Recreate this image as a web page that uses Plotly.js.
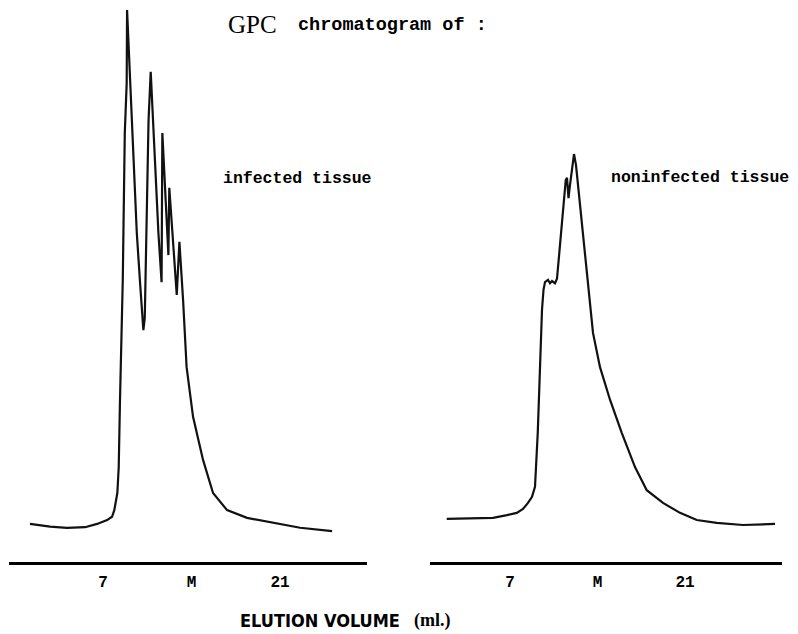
<!DOCTYPE html>
<html>
<head>
<meta charset="utf-8">
<script src="https://cdn.plot.ly/plotly-3.0.1.min.js"></script>
<style>html,body{margin:0;padding:0;background:#fff;}#chart{width:798px;height:634px;}</style>
</head>
<body>
<div id="chart"></div>
<script>
// Elution volume (ml) and detector response (relative units)
const infectedVolume = [1.22, 2.81, 4.15, 5.58, 6.53, 7.32, 7.71, 7.89, 8.13, 8.24, 8.34, 8.46, 8.56, 8.72, 8.87, 8.90,
  9.19, 9.67, 9.93, 10.09, 10.19, 10.30, 10.40, 10.54, 10.60, 10.77, 10.98, 11.38, 11.63, 11.69, 12.17, 12.24,
  12.83, 13.04, 13.33, 13.61, 14.12, 14.91, 15.70, 16.81, 18.39, 20.45, 22.59, 25.12];
const infectedResponse = [6.9, 6.4, 6.2, 6.3, 6.9, 7.6, 8.2, 9.4, 12.5, 17.2, 29.3, 42.0, 51.1, 77.7, 86.8, 100.0,
  83.7, 59.6, 50.5, 44.2, 42.0, 44.2, 58.3, 75.9, 80.1, 88.8, 77.7, 59.6, 50.7, 77.7, 55.6, 67.8,
  48.4, 58.0, 47.5, 35.3, 26.3, 18.5, 12.5, 9.4, 8.0, 7.1, 6.2, 5.6];

const noninfectedVolume = [1.94, 3.80, 5.64, 6.76, 7.54, 8.04, 8.44, 8.76, 9.00, 9.22, 9.40, 9.56, 9.68, 9.80, 10.04,
  10.20, 10.36, 10.60, 10.76, 11.46, 11.56, 11.68, 11.80, 12.12, 12.28, 12.84, 13.34, 13.64, 14.20, 15.00, 15.94,
  17.00, 17.94, 19.24, 20.60, 21.94, 23.54, 25.64, 28.20];
const noninfectedResponse = [7.8, 7.9, 8.0, 8.5, 8.9, 9.6, 10.7, 11.8, 13.6, 23.4, 35.3, 45.7, 49.3, 50.7, 51.1,
  50.5, 50.9, 50.5, 51.3, 69.2, 69.6, 65.9, 68.3, 73.9, 71.9, 59.6, 47.5, 41.5, 35.3, 29.4, 23.4,
  17.2, 13.0, 10.7, 8.9, 7.6, 7.1, 6.7, 6.9];

const tickValues = [7, 14, 21];
const tickLabels = ['7', 'M', '21'];

const lineStyle = {color: '#111', width: 2.2};
const traces = [
  {x: infectedVolume, y: infectedResponse, xaxis: 'x', yaxis: 'y', mode: 'lines', line: lineStyle, hoverinfo: 'skip'},
  {x: noninfectedVolume, y: noninfectedResponse, xaxis: 'x2', yaxis: 'y', mode: 'lines', line: lineStyle, hoverinfo: 'skip'}
];

const W = 798, H = 634, T = 10, B = 72;
const plotH = H - T - B;
const px = v => v / W;
const py = v => (H - B - v) / plotH;

const xCommon = {
  showline: true, linecolor: '#000', linewidth: 2.5, ticks: '', showgrid: false, zeroline: false,
  tickmode: 'array', tickvals: tickValues, ticktext: tickLabels, anchor: 'y', ticklabelstandoff: 3,
  tickfont: {family: 'Liberation Mono, DejaVu Sans Mono, monospace', size: 16, color: '#000', weight: 'bold'},
  fixedrange: true
};

const monoBold = (s) => ({family: 'Liberation Mono, DejaVu Sans Mono, monospace', size: s, color: '#000', weight: 'bold'});

const layout = {
  width: W, height: H,
  margin: {l: 0, r: 0, t: T, b: B},
  paper_bgcolor: '#fff', plot_bgcolor: '#fff',
  showlegend: false,
  xaxis: Object.assign({}, xCommon, {domain: [9 / W, 367 / W], range: [-0.44, 27.88]}),
  xaxis2: Object.assign({}, xCommon, {domain: [430 / W, 782 / W], range: [0.6, 28.76]}),
  yaxis: {visible: false, range: [0, 100], fixedrange: true},
  annotations: [
    {text: 'GPC', xref: 'paper', yref: 'paper', x: px(252), y: py(24), xanchor: 'center', yanchor: 'middle', showarrow: false,
     font: {family: 'Liberation Serif, DejaVu Serif, serif', size: 25, color: '#000'}},
    {text: 'chromatogram of :', xref: 'paper', yref: 'paper', x: px(296), y: py(25), xanchor: 'left', yanchor: 'middle', showarrow: false,
     font: monoBold(18.5)},
    {text: 'infected tissue', xref: 'paper', yref: 'paper', x: px(221), y: py(178), xanchor: 'left', yanchor: 'middle', showarrow: false,
     font: monoBold(16.5)},
    {text: 'noninfected tissue', xref: 'paper', yref: 'paper', x: px(609), y: py(177), xanchor: 'left', yanchor: 'middle', showarrow: false,
     font: monoBold(16.5)},
    {text: 'ELUTION VOLUME', xref: 'paper', yref: 'paper', x: px(238), y: py(620), xanchor: 'left', yanchor: 'middle', showarrow: false,
     font: {family: 'DejaVu Sans Condensed, Liberation Sans Narrow, DejaVu Sans, sans-serif', size: 18, color: '#000', weight: 'bold'}},
    {text: '(ml.)', xref: 'paper', yref: 'paper', x: px(412), y: py(620), xanchor: 'left', yanchor: 'middle', showarrow: false,
     font: {family: 'Liberation Serif, DejaVu Serif, serif', size: 18, color: '#000', weight: 'bold'}}
  ]
};

Plotly.newPlot('chart', traces, layout, {staticPlot: true, displayModeBar: false});
</script>
</body>
</html>
